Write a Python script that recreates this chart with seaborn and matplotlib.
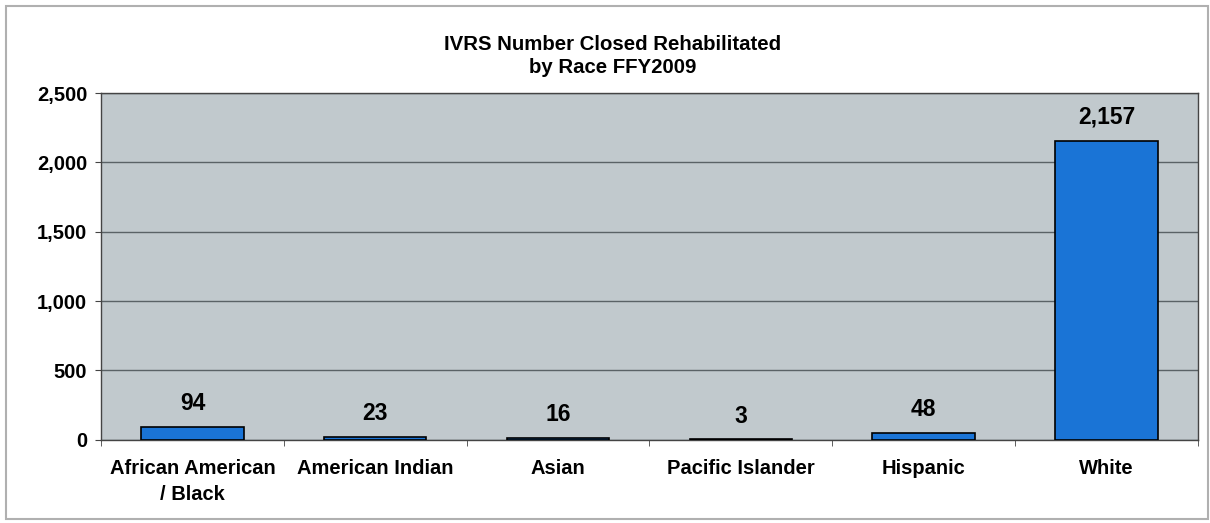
import matplotlib
matplotlib.use('Agg')
import matplotlib.pyplot as plt
import seaborn as sns
import pandas as pd
from matplotlib.ticker import FuncFormatter, FixedLocator

# data
races = ['African American\n/ Black', 'American Indian', 'Asian', 'Pacific Islander', 'Hispanic', 'White']
closed = [94, 23, 16, 3, 48, 2157]
y_ticks = [0, 500, 1000, 1500, 2000, 2500]

df = pd.DataFrame({'race': races, 'closed': closed})

sns.set_style('white')
plt.rcParams['font.family'] = ['Liberation Sans', 'DejaVu Sans']
plt.rcParams['text.color'] = 'black'
plt.rcParams['xtick.color'] = 'black'
plt.rcParams['ytick.color'] = 'black'

fig = plt.figure(figsize=(12.1, 5.23), dpi=100)
ax = fig.add_axes([0.0835, 0.159, 0.9065, 0.663])

sns.barplot(data=df, x='race', y='closed', color='#1a74d6', width=0.56,
            edgecolor='black', linewidth=1.2, saturation=1, ax=ax, zorder=3)

ax.set_facecolor('#c1c9cd')
ax.set_ylim(0, 2500)
ax.set_xlim(-0.5, len(races) - 0.5)
ax.set_yticks(y_ticks)
ax.yaxis.set_major_formatter(FuncFormatter(lambda v, p: f'{int(v):,}'))
ax.grid(axis='y', color='#5a6266', linewidth=1, zorder=1)
ax.set_axisbelow(True)
for s in ax.spines.values():
    s.set_color('#444444')
    s.set_linewidth(1)
ax.set_xlabel('')
ax.set_ylabel('')

# x ticks between categories
ax.xaxis.set_minor_locator(FixedLocator([i - 0.5 for i in range(len(races) + 1)]))
ax.tick_params(axis='x', which='major', length=0, pad=14)
ax.tick_params(axis='x', which='minor', length=4, color='#444444', direction='out', bottom=True)
ax.tick_params(axis='y', length=4, color='#444444', direction='out', left=True, pad=6)
for lab in ax.get_xticklabels() + ax.get_yticklabels():
    lab.set_fontweight('bold')
    lab.set_fontsize(14.5)
for lab in ax.get_xticklabels():
    lab.set_linespacing(1.45)

for i, v in enumerate(closed):
    ax.text(i, v + 85, f'{v:,}', ha='center', va='bottom', fontsize=16.5, fontweight='bold')

fig.text(0.506, 0.893, 'IVRS Number Closed Rehabilitated\nby Race FFY2009', ha='center', va='center',
         fontsize=14.7, fontweight='bold', linespacing=1.3)

# outer frame
fig.patches.append(plt.Rectangle((0.005, 0.007), 0.993, 0.981, transform=fig.transFigure,
                                 fill=False, edgecolor='#b0b0b0', linewidth=1.5))

fig.savefig('out.png', dpi=100)
